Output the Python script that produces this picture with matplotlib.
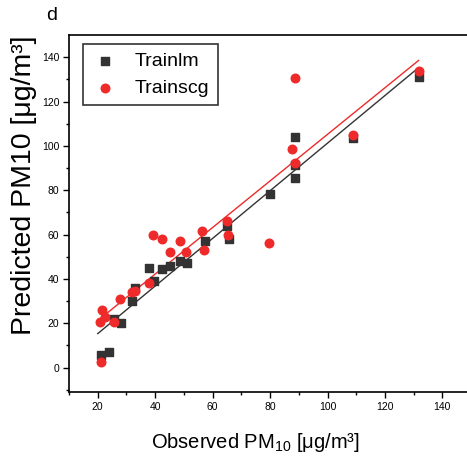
import numpy as np
import matplotlib
matplotlib.use("Agg")
import matplotlib.pyplot as plt

plt.rcParams['font.family'] = ['Liberation Sans', 'DejaVu Sans']
plt.rcParams['mathtext.fontset'] = 'custom'
plt.rcParams['mathtext.rm'] = 'Liberation Sans'
plt.rcParams['mathtext.it'] = 'Liberation Sans:italic'

# Trainlm (black squares)
lm_obs = [21, 24, 28.2, 25.8, 32, 33, 38, 39.5, 42.4, 45, 48.8, 51, 57.3, 65, 65.7,
          80, 88.8, 88.8, 88.6, 108.9, 131.7]
lm_pred = [5.5, 7, 20, 22, 30, 36, 45, 39, 44.6, 46, 48, 47, 57, 64, 58,
           78.5, 104, 85.5, 91.5, 103.7, 131]

# Trainscg (red circles)
scg_obs = [21.2, 20.8, 21.4, 22.6, 25.5, 27.8, 31.9, 33, 37.7, 39.3, 42.2, 45, 48.5,
           50.8, 56.2, 57, 64.9, 65.5, 79.5, 88.6, 87.7, 88.8, 108.9, 131.7]
scg_pred = [2.6, 20.6, 25.9, 22.9, 20.6, 31, 34, 34.4, 38, 60, 58.2, 52, 57,
            52.2, 61.5, 53, 66, 60, 56, 92.5, 98.5, 130.5, 104.8, 133.7]

black = '#333333'
red = '#ee2a2a'

fig = plt.figure(figsize=(4.67, 4.66), dpi=100)
ax = fig.add_axes([0.1478, 0.1588, 0.861, 0.766])

# linear fits
for xs, ys, c in [(lm_obs, lm_pred, black), (scg_obs, scg_pred, red)]:
    k, b = np.polyfit(xs, ys, 1)
    xx = np.array([min(xs) - 1, max(xs)])
    ax.plot(xx, k * xx + b, color=c, lw=1.0, zorder=2)

ax.scatter(lm_obs, lm_pred, marker='s', s=38, color=black, label='Trainlm', zorder=3)
ax.scatter(scg_obs, scg_pred, marker='o', s=38, color=red, label='Trainscg', zorder=4)

ax.set_xlim(10, 150)
ax.set_ylim(-11, 150)
ax.set_xticks(np.arange(20, 141, 20))
ax.set_yticks(np.arange(0, 141, 20))
ax.set_xticks(np.arange(10, 150, 10), minor=True)
ax.set_yticks(np.arange(-10, 150, 10), minor=True)
ax.tick_params(which='major', direction='out', length=4, width=1, labelsize=7.5, pad=3)
ax.tick_params(which='minor', direction='out', length=2.5, width=1)
for s in ax.spines.values():
    s.set_linewidth(1.2)

leg = ax.legend(loc='upper left', bbox_to_anchor=(0.035, 0.975), fontsize=14,
                frameon=True, fancybox=False, edgecolor='black', handletextpad=0.8,
                borderpad=0.45, labelspacing=0.45, handlelength=1.4, borderaxespad=0)
leg.get_frame().set_linewidth(1.2)

fig.text(24 / 467, 1 - 185 / 466, 'Predicted PM10 [μg/m³]', rotation=90,
         ha='center', va='center', fontsize=20.5)
fig.text(255 / 467, 1 - 443 / 466, 'Observed PM$_{10}$ [μg/m³]',
         ha='center', va='center', fontsize=14.5)
fig.text(52 / 467, 1 - 15 / 466, 'd', ha='center', va='center', fontsize=14)

fig.savefig('out.png', dpi=100)
